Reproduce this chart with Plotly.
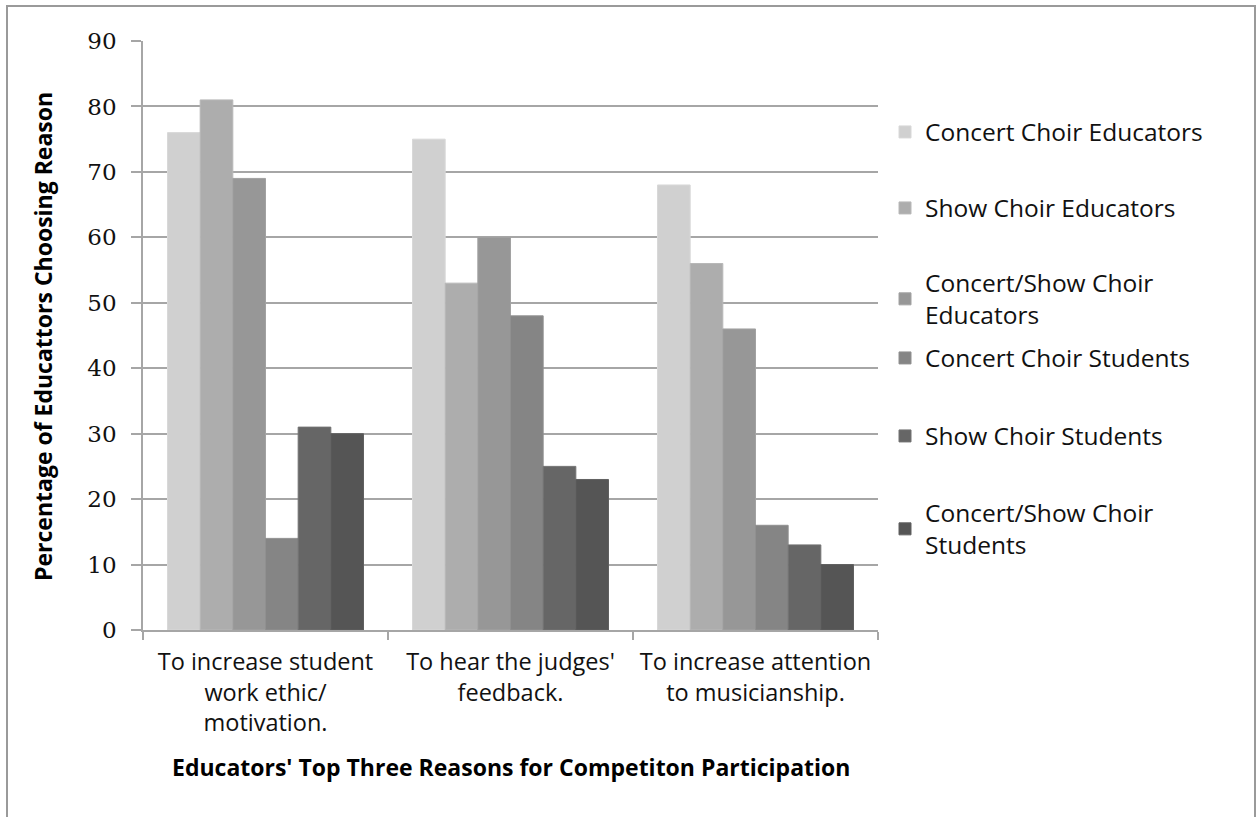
import plotly.graph_objects as go

# Reasons (x categories) and the share of respondents choosing each
categories = [
    "To increase student<br>work ethic/<br>motivation.",
    "To hear the judges'<br>feedback.",
    "To increase attention<br>to musicianship.",
]
series_names = [
    "Concert Choir Educators",
    "Show Choir Educators",
    "Concert/Show Choir<br>Educators",
    "Concert Choir Students",
    "Show Choir Students",
    "Concert/Show Choir<br>Students",
]
concert_choir_educators = [76, 75, 68]
show_choir_educators = [81, 53, 56]
concert_show_choir_educators = [69, 60, 46]
concert_choir_students = [14, 48, 16]
show_choir_students = [31, 25, 13]
concert_show_choir_students = [30, 23, 10]
y_ticks = [0, 10, 20, 30, 40, 50, 60, 70, 80, 90]

series_values = [
    concert_choir_educators,
    show_choir_educators,
    concert_show_choir_educators,
    concert_choir_students,
    show_choir_students,
    concert_show_choir_students,
]
fills = ["#d0d0d0", "#adadad", "#979797", "#858585", "#666666", "#555555"]
edges = ["#d8d8d8", "#b8b8b8", "#a2a2a2", "#909090", "#727272", "#606060"]

# plot-area geometry in pixels (figure is 1257 x 817)
W, H = 1257, 817
L, R, T, B = 143, 878, 41, 630
pw, ph = R - L, B - T


def px_x(x):
    return (x - L) / pw


def px_y(y):
    return (B - y) / ph


sans = "'Open Sans', Lato, sans-serif"
legend_centers = [132, 208, 299, 358, 436, 529]

fig = go.Figure()
for i, (name, vals) in enumerate(zip(series_names, series_values)):
    lg = "legend" if i == 0 else f"legend{i + 1}"
    fig.add_trace(go.Bar(
        x=categories, y=vals, name=name,
        marker=dict(color=fills[i], line=dict(color=edges[i], width=1)),
        legend=lg,
    ))

layout_legends = {}
for i, cy in enumerate(legend_centers):
    key = "legend" if i == 0 else f"legend{i + 1}"
    layout_legends[key] = dict(
        x=px_x(885), y=px_y(cy), xanchor="left", yanchor="middle",
        xref="paper", yref="paper",
        font=dict(family=sans, size=24.5, color="#111111"),
        bgcolor="rgba(0,0,0,0)", borderwidth=0,
    )

fig.update_layout(
    width=W, height=H,
    margin=dict(l=L, r=W - R, t=T, b=H - B, autoexpand=False),
    paper_bgcolor="white", plot_bgcolor="white",
    barmode="group", bargap=0.2, bargroupgap=0,
    showlegend=True,
    **layout_legends,
    xaxis=dict(
        showline=True, linecolor="#a6a6a6", linewidth=1.5,
        ticks="outside", tickson="boundaries", ticklen=8,
        tickcolor="#a6a6a6", tickwidth=1.5,
        ticklabelstandoff=10,
        tickfont=dict(family=sans, size=23.5, color="#111111"),
        showgrid=False, fixedrange=True,
    ),
    yaxis=dict(
        range=[0, 90], tickvals=y_ticks,
        showline=True, linecolor="#a6a6a6", linewidth=1.5,
        ticks="outside", ticklen=10, tickcolor="#a6a6a6", tickwidth=1.5,
        ticklabelstandoff=10,
        tickfont=dict(family="'DejaVu Serif', serif", size=23, color="#111111"),
        showgrid=True, gridcolor="#a6a6a6", gridwidth=1.5,
        zeroline=False, fixedrange=True,
    ),
    annotations=[
        dict(text="<b>Educators' Top Three Reasons for Competiton Participation</b>",
             xref="paper", yref="paper", x=0.5, y=px_y(767),
             xanchor="center", yanchor="middle", showarrow=False,
             font=dict(family=sans, size=23, color="#000000")),
        dict(text="<b>Percentage of Educattors Choosing Reason</b>",
             xref="paper", yref="paper", x=px_x(43), y=px_y(337),
             xanchor="center", yanchor="middle", showarrow=False, textangle=-90,
             font=dict(family=sans, size=23, color="#000000")),
    ],
    shapes=[
        dict(type="rect", xref="paper", yref="paper",
             x0=px_x(7), x1=px_x(1255), y0=px_y(830), y1=px_y(6),
             line=dict(color="#9a9a9a", width=2), layer="below"),
    ],
)

fig.write_html("out.html")
